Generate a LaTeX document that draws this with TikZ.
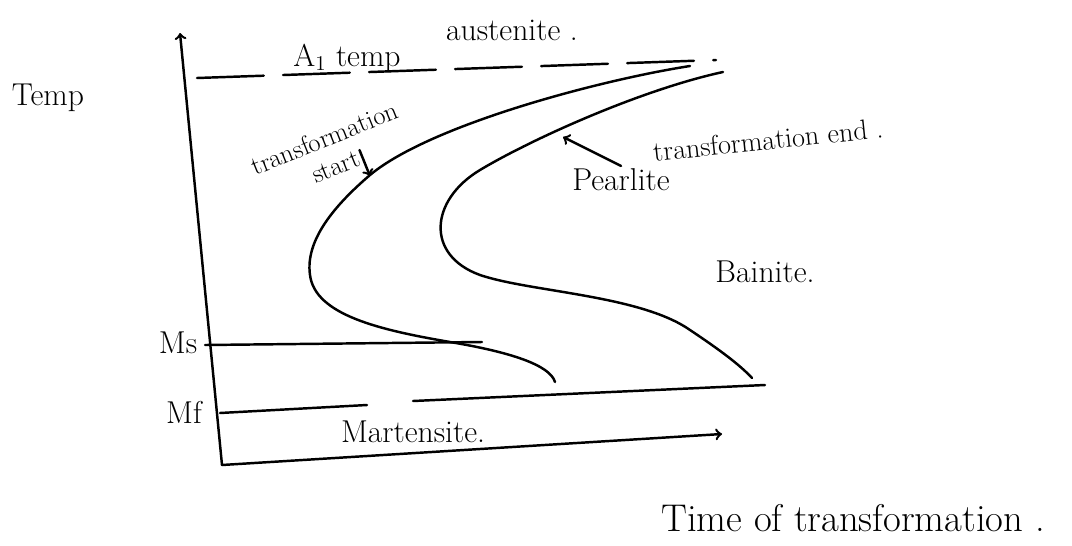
\documentclass[tikz,border=0pt]{standalone}
\usepackage{tikz}
\usetikzlibrary{calc}

\begin{document}
\begin{tikzpicture}[x=0.02cm, y=-0.02cm, line width=1.4pt, line cap=round,
  hand/.style={inner sep=1pt, font=\fontsize{18}{20}\selectfont},
  smallhand/.style={inner sep=0.5pt, font=\fontsize{15}{17}\selectfont}]
  \useasboundingbox (0,0) rectangle (1072,545);
  % Axes
  \coordinate (O) at (222,465);
  \coordinate (ytip) at (180,33);
  \coordinate (xtip) at (722,434);
  \draw[->] (O) -- (ytip);
  \draw[->] (O) -- (xtip);
  \node[hand] (temp) at (48,98) {Temp};
  \node[font=\fontsize{22}{24}\selectfont, inner sep=1pt] (time) at (853,518) {Time of transformation .};
  % A1 line
  \coordinate (a1l) at (197,78);
  \coordinate (a1r) at (716,60);
  \draw[dash pattern=on 38pt off 11pt] (a1l) -- (a1r);
  \node[hand] (atemp) at (347,58) {A$_1$ temp};
  \node[hand] (aust) at (512,30) {austenite .};
  % Ms and Mf lines
  \coordinate (msl) at (205,345);
  \coordinate (msr) at (482,342);
  \draw (msl) -- (msr);
  \node[hand] (ms) at (178,343) {Ms};
  \coordinate (mfl) at (220,413);
  \coordinate (mfa) at (367,405);
  \coordinate (mfb) at (413,401);
  \coordinate (mfr) at (765,385);
  \draw (mfl) -- (mfa);
  \draw (mfb) -- (mfr);
  \node[hand] (mf) at (184,412) {Mf};
  \node[hand] (mart) at (413,432) {Martensite.};
  % Transformation start curve
  \draw (690,66) .. controls (600,80) and (430,125) .. (370,175)
        .. controls (335,205) and (305,240) .. (310,275)
        .. controls (315,315) and (380,330) .. (450,342)
        .. controls (510,352) and (550,365) .. (555,382);
  % Transformation end curve
  \draw (723,72) .. controls (640,90) and (530,140) .. (480,170)
        .. controls (430,200) and (425,255) .. (480,275)
        .. controls (530,292) and (640,295) .. (690,330)
        .. controls (720,350) and (740,365) .. (752,378);
  % Labels with arrows
  \coordinate (starttip) at (370,176);
  \coordinate (pearltip) at (563,137);
  \node[smallhand, rotate=22, align=center] (tstart) at (330,152) {transformation\\start};
  \draw[->] ($(tstart.center)!0.35!(tstart.south east)$) -- (starttip);
  \node[hand] (pearl) at (621,180) {Pearlite};
  \draw[->] (pearl.north) -- (pearltip);
  \node[smallhand, font=\fontsize{16}{18}\selectfont, rotate=6] (tend) at (768,140) {transformation end .};
  \node[hand] (bain) at (765,272) {Bainite.};
\end{tikzpicture}
\end{document}
